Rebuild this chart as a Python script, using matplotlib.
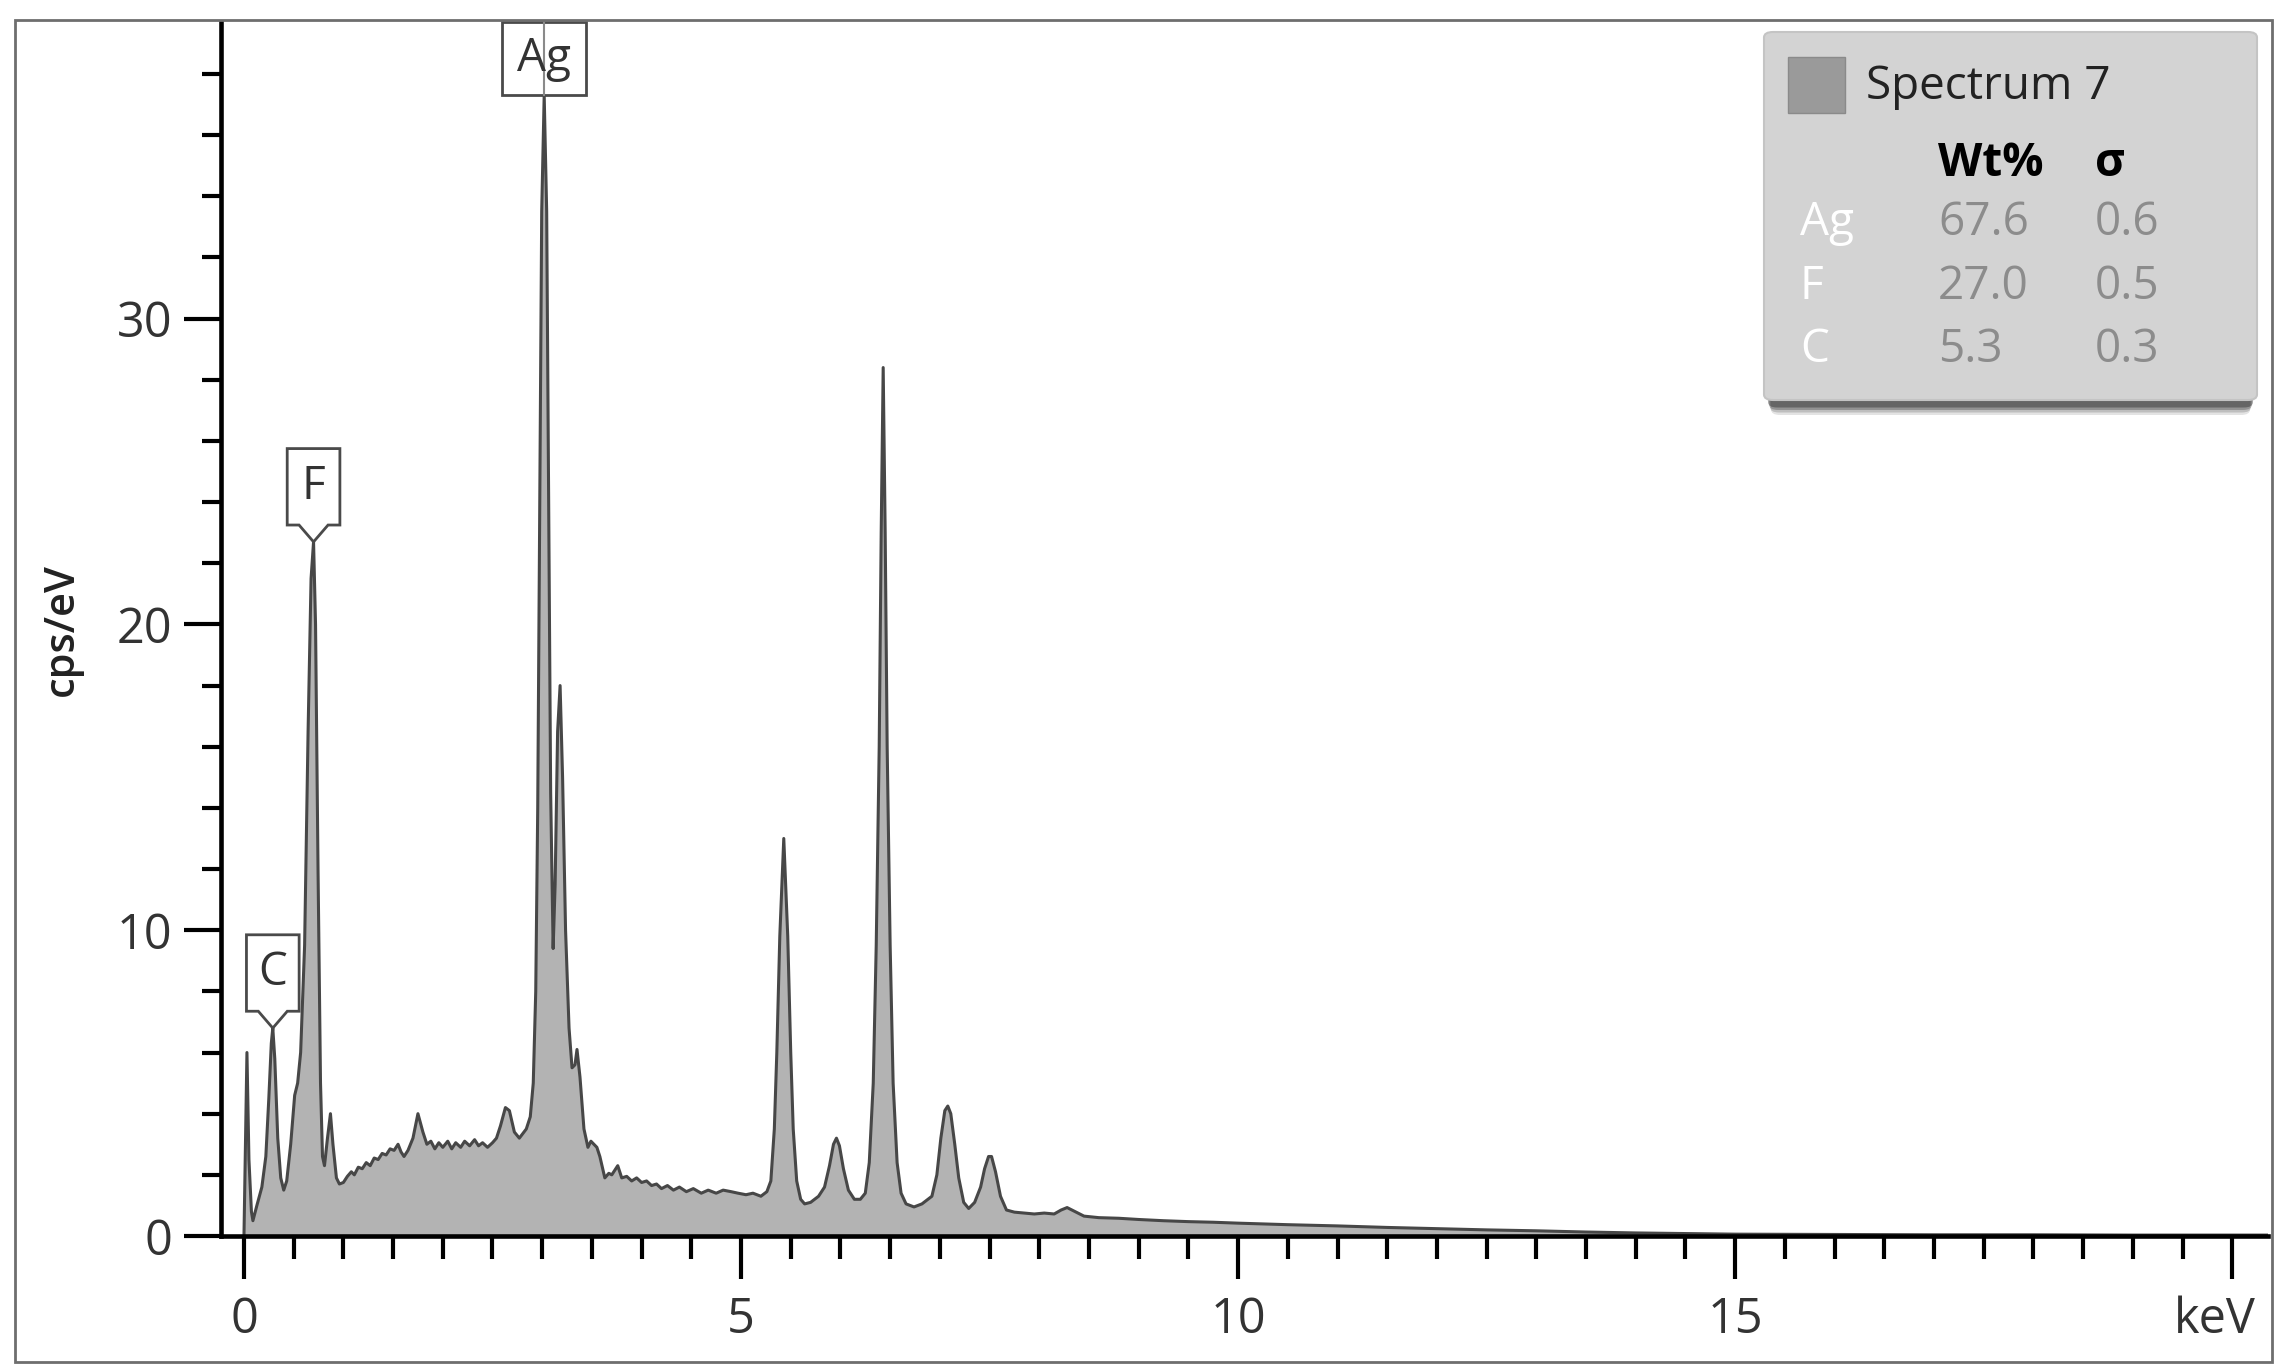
import matplotlib
matplotlib.use("Agg")
import matplotlib.pyplot as plt
import numpy as np
from matplotlib.patches import Polygon, Rectangle, FancyBboxPatch

plt.rcParams["font.family"] = ["Open Sans", "DejaVu Sans"]

# spectrum: (keV, cps/eV)
spectrum = [
    (0.00, 0.0), (0.015, 3.0), (0.03, 6.0), (0.05, 2.5), (0.075, 0.8), (0.09, 0.5),
    (0.13, 1.0), (0.18, 1.6), (0.22, 2.6), (0.25, 4.5), (0.275, 6.3), (0.29, 6.8),
    (0.31, 5.8), (0.34, 3.2), (0.37, 1.9), (0.40, 1.5), (0.43, 1.8), (0.47, 3.0),
    (0.51, 4.6), (0.54, 5.0), (0.57, 6.0), (0.61, 9.5), (0.645, 16.5), (0.675, 21.5),
    (0.70, 22.7), (0.72, 20.0), (0.745, 12.0), (0.77, 5.0), (0.79, 2.6), (0.81, 2.3),
    (0.84, 3.2), (0.87, 4.0), (0.895, 3.0), (0.93, 1.9), (0.96, 1.7), (1.00, 1.75),
    (1.04, 1.95), (1.08, 2.1), (1.11, 2.0), (1.15, 2.25), (1.19, 2.2), (1.23, 2.4),
    (1.27, 2.3), (1.31, 2.55), (1.35, 2.5), (1.39, 2.7), (1.43, 2.65), (1.47, 2.85),
    (1.51, 2.8), (1.55, 3.0), (1.58, 2.75), (1.61, 2.6), (1.65, 2.8), (1.70, 3.2),
    (1.75, 4.0), (1.80, 3.4), (1.84, 3.0), (1.88, 3.1), (1.92, 2.85), (1.96, 3.05),
    (2.00, 2.9), (2.05, 3.1), (2.09, 2.85), (2.13, 3.05), (2.18, 2.9), (2.22, 3.1),
    (2.27, 2.95), (2.32, 3.15), (2.36, 2.95), (2.40, 3.05), (2.45, 2.9), (2.50, 3.05),
    (2.54, 3.2), (2.58, 3.6), (2.63, 4.2), (2.67, 4.1), (2.72, 3.4), (2.77, 3.2),
    (2.84, 3.5), (2.88, 3.9), (2.91, 5.0), (2.935, 8.0), (2.955, 14.0), (2.975, 24.0),
    (2.995, 33.5), (3.02, 37.3), (3.045, 33.5), (3.065, 24.0), (3.085, 14.5), (3.11, 9.4),
    (3.13, 11.5), (3.155, 16.5), (3.18, 18.0), (3.205, 15.0), (3.235, 10.0), (3.27, 6.8),
    (3.30, 5.5), (3.33, 5.6), (3.35, 6.1), (3.38, 5.2), (3.42, 3.5), (3.46, 2.9),
    (3.49, 3.1), (3.52, 3.0), (3.55, 2.9), (3.58, 2.6), (3.63, 1.9), (3.67, 2.05),
    (3.70, 2.0), (3.76, 2.3), (3.80, 1.9), (3.85, 1.95), (3.90, 1.8), (3.95, 1.9),
    (4.00, 1.75), (4.05, 1.8), (4.10, 1.65), (4.15, 1.7), (4.20, 1.55), (4.26, 1.65),
    (4.32, 1.5), (4.38, 1.6), (4.45, 1.45), (4.52, 1.55), (4.60, 1.4), (4.67, 1.5),
    (4.75, 1.4), (4.82, 1.5), (4.90, 1.45), (4.97, 1.4), (5.05, 1.35), (5.12, 1.4),
    (5.20, 1.3), (5.26, 1.45), (5.30, 1.8), (5.335, 3.5), (5.36, 6.0), (5.39, 9.8),
    (5.43, 13.0), (5.47, 9.8), (5.50, 6.0), (5.525, 3.5), (5.56, 1.8), (5.60, 1.2),
    (5.64, 1.05), (5.70, 1.1), (5.78, 1.3), (5.84, 1.6), (5.89, 2.3), (5.93, 3.0),
    (5.96, 3.2), (5.99, 2.95), (6.03, 2.2), (6.08, 1.5), (6.14, 1.2), (6.20, 1.2),
    (6.25, 1.4), (6.29, 2.4), (6.33, 5.0), (6.36, 9.5), (6.39, 16.0), (6.41, 23.0),
    (6.43, 28.4), (6.45, 23.0), (6.47, 16.0), (6.50, 9.5), (6.53, 5.0), (6.57, 2.4),
    (6.61, 1.4), (6.66, 1.05), (6.74, 0.95), (6.82, 1.05), (6.92, 1.3), (6.97, 2.0),
    (7.01, 3.2), (7.05, 4.1), (7.08, 4.25), (7.11, 4.0), (7.15, 3.0), (7.19, 1.9),
    (7.24, 1.1), (7.29, 0.9), (7.35, 1.1), (7.41, 1.6), (7.45, 2.2), (7.49, 2.6),
    (7.52, 2.6), (7.56, 2.1), (7.61, 1.3), (7.67, 0.85), (7.75, 0.78), (7.85, 0.75),
    (7.95, 0.72), (8.05, 0.75), (8.15, 0.72), (8.22, 0.85), (8.28, 0.93), (8.36, 0.8),
    (8.45, 0.65), (8.60, 0.6), (8.80, 0.58), (9.00, 0.54), (9.25, 0.5), (9.50, 0.47),
    (9.75, 0.45), (10.0, 0.42), (10.5, 0.37), (11.0, 0.33), (11.5, 0.28), (12.0, 0.24),
    (12.5, 0.2), (13.0, 0.17), (13.5, 0.13), (14.0, 0.1), (14.5, 0.08), (15.0, 0.06),
    (16.0, 0.05), (17.0, 0.04), (18.0, 0.04), (19.0, 0.03), (20.0, 0.03), (20.4, 0.03),
]

# peak labels: element, energy (keV), peak height
peak_labels = ["C", "F", "Ag"]
peak_energy = [0.29, 0.70, 3.02]
peak_height = [6.8, 22.7, 37.3]

# quant table
spectrum_name = "Spectrum 7"
elements = ["Ag", "F", "C"]
wt_pct = ["67.6", "27.0", "5.3"]
sigma = ["0.6", "0.5", "0.3"]

x_major = [0, 5, 10, 15, 20]
x_major_labels = ["0", "5", "10", "15", ""]
y_major = [0, 10, 20, 30]

W, H = 2281, 1371
fig = plt.figure(figsize=(W / 100, H / 100), dpi=100)
fig.patch.set_facecolor("white")

ax = fig.add_axes([221 / W, 1 - 1236 / H, (2268 - 221) / W, (1236 - 22) / H])
ax.set_xlim(-0.231, 20.36)
ax.set_ylim(0, 39.7)

e = np.array([p[0] for p in spectrum])
c = np.array([p[1] for p in spectrum])
ax.fill_between(e, 0, c, color="#b3b3b3", lw=0, zorder=1)
ax.plot(e, c, color="#474747", lw=2.2, zorder=2, solid_joinstyle="round")

# axes styling
for side in ["top", "right"]:
    ax.spines[side].set_visible(False)
for side in ["left", "bottom"]:
    ax.spines[side].set_linewidth(3.3)
    ax.spines[side].set_color("black")
    ax.spines[side].set_zorder(5)

ax.set_xticks(x_major)
ax.set_xticklabels(x_major_labels)
ax.set_xticks(np.arange(0, 20.01, 0.5), minor=True)
ax.set_yticks(y_major)
ax.set_yticklabels([str(v) for v in y_major])
ax.set_yticks(np.arange(0, 39, 2), minor=True)

ax.tick_params(axis="x", which="major", length=31, width=3, pad=12,
               labelsize=35, labelcolor="#333333")
ax.tick_params(axis="x", which="minor", length=16.5, width=3)
ax.tick_params(axis="y", which="major", length=27, width=3, pad=8,
               labelsize=35, labelcolor="#333333")
ax.tick_params(axis="y", which="minor", length=14, width=3)

fig.text(2256 / W, 1 - 1320 / H, "keV", ha="right", va="center",
         fontsize=35, color="#333333")
fig.text(62 / W, 1 - 630 / H, "cps/eV", rotation=90, ha="center", va="center",
         fontsize=30, fontweight="semibold", color="#222222")

# element markers on peaks
box_w = {"C": 0.53, "F": 0.53, "Ag": 0.85}
for name, ex, ey in zip(peak_labels, peak_energy, peak_height):
    hw = box_w[name] / 2
    if name == "Ag":
        top = ax.get_ylim()[1]
        pts = [(ex - hw, ey), (ex + hw, ey), (ex + hw, top), (ex - hw, top)]
        ax.plot([ex, ex], [ey, top], color="#8a8a8a", lw=1.5, zorder=6, clip_on=False)
        ty = (ey + top) / 2
    else:
        tip = 0.55
        bottom = ey + tip
        top = bottom + 2.5
        pts = [(ex, ey), (ex + hw * 0.55, bottom), (ex + hw, bottom), (ex + hw, top),
               (ex - hw, top), (ex - hw, bottom), (ex - hw * 0.55, bottom)]
        ty = (bottom + top) / 2
    poly = Polygon(pts, closed=True, facecolor="white", edgecolor="#4a4a4a",
                   lw=2, zorder=5, clip_on=False)
    ax.add_patch(poly)
    ax.text(ex, ty, name, ha="center", va="center", fontsize=33,
            color="#333333", zorder=7)

# quant table box with drop shadow
bx0, by0, bx1, by1 = 1764 / W, 1 - 400 / H, 2257 / W, 1 - 32 / H
for k, a in enumerate([0.12, 0.18, 0.26, 0.38]):
    off = (4 - k) * 2.5
    sh = FancyBboxPatch((bx0 + (3 + 4 - k) / W, by0 - (5 + off) / H),
                        bx1 - bx0 - 2 * (3 + 4 - k) / W, (by1 - by0) - 20 / H,
                        boxstyle="round,pad=0,rounding_size=0.004",
                        transform=fig.transFigure, facecolor="#1a1a1a",
                        edgecolor="none", alpha=a, zorder=8)
    fig.patches.append(sh)
box = FancyBboxPatch((bx0, by0), bx1 - bx0, by1 - by0,
                     boxstyle="round,pad=0,rounding_size=0.004",
                     transform=fig.transFigure, facecolor="#d3d3d3",
                     edgecolor="#c4c4c4", lw=1.5, zorder=9)
fig.patches.append(box)
fig.patches.append(Rectangle((1788 / W, 1 - 113 / H), 57 / W, 56 / H,
                             transform=fig.transFigure, facecolor="#9a9a9a",
                             edgecolor="#8a8a8a", lw=1, zorder=10))
fig.text(1866 / W, 1 - 87 / H, spectrum_name, ha="left", va="center",
         fontsize=33, color="#222222", zorder=11)
fig.text(1938 / W, 1 - 163 / H, "Wt%", ha="left", va="center",
         fontsize=33, fontweight="bold", color="black", zorder=11)
fig.text(2095 / W, 1 - 163 / H, "σ", ha="left", va="center",
         fontsize=33, fontweight="bold", color="black", zorder=11)
row_y = [223, 287, 350]
for ry, el, wt, sg in zip(row_y, elements, wt_pct, sigma):
    fig.text(1800 / W, 1 - ry / H, el, ha="left", va="center", fontsize=33,
             color="white", zorder=11)
    fig.text(1938 / W, 1 - ry / H, wt, ha="left", va="center", fontsize=33,
             color="#8c8c8c", zorder=11)
    fig.text(2095 / W, 1 - ry / H, sg, ha="left", va="center", fontsize=33,
             color="#8c8c8c", zorder=11)

# outer frame
fig.patches.append(Rectangle((15 / W, 1 - 1362 / H), (2272 - 15) / W, (1362 - 20) / H,
                             transform=fig.transFigure, fill=False,
                             edgecolor="#6e6e6e", lw=2, zorder=12))

fig.savefig("out.png", dpi=100)
